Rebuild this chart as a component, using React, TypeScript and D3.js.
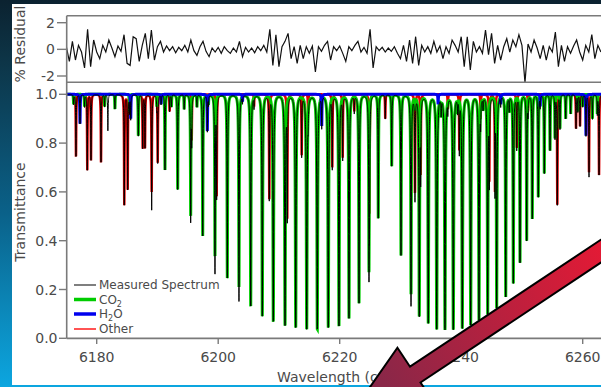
import React from 'react';
import * as d3 from 'd3';

const W = 601;
const H = 387;

const X_TICKS = [6180, 6200, 6220, 6240, 6260];
const T_TICKS = [0, 0.2, 0.4, 0.6, 0.8, 1.0];
const RES_TICKS = [-2, 0, 2];

// CO2 absorption lines: centre (cm-1) and transmittance at line centre (model, green)
const CO2_CENTERS = [
  6186.85, 6191.24, 6193.33, 6195.47, 6197.45, 6199.47, 6201.5, 6203.42, 6205.35, 6207.26,
  6209.07, 6211.0, 6212.76, 6214.57, 6216.31, 6218.12, 6219.88, 6221.53, 6223.18, 6224.82,
  6226.35, 6228.56, 6230.09, 6231.74, 6233.1, 6234.58, 6235.97, 6237.33, 6238.7, 6240.18,
  6241.56, 6242.93, 6244.36, 6245.84, 6247.33, 6248.58, 6249.68, 6250.78, 6251.7, 6252.69,
  6253.68, 6254.62, 6255.44, 6256.26, 6257.2, 6258.02,
  6176.2, 6178.0, 6181.3, 6183.0, 6185.4, 6189.9, 6192.3, 6194.4, 6196.5, 6198.4,
  6232.4, 6236.7, 6239.4, 6243.6, 6247.9, 6259.2, 6260.0, 6261.6, 6262.4,
];
const CO2_TMIN = [
  0.83, 0.69, 0.61, 0.5, 0.42, 0.335, 0.246, 0.21, 0.13, 0.09,
  0.068, 0.052, 0.044, 0.037, 0.037, 0.044, 0.05, 0.082, 0.143, 0.27,
  0.49, 0.706, 0.34, 0.18, 0.089, 0.061, 0.037, 0.035, 0.035, 0.04,
  0.054, 0.075, 0.098, 0.123, 0.17, 0.225, 0.31, 0.4, 0.49, 0.58,
  0.676, 0.77, 0.82, 0.86, 0.9, 0.92,
  0.96, 0.95, 0.95, 0.94, 0.93, 0.95, 0.95, 0.94, 0.95, 0.96,
  0.95, 0.93, 0.94, 0.95, 0.94, 0.93, 0.95, 0.9, 0.92,
];

// H2O lines
const H2O_CENTERS = [6177.25, 6185.6, 6198.21, 6217.04, 6260.54, 6190.6, 6204.0, 6236.2, 6246.5, 6253.0];
const H2O_TMIN = [0.88, 0.9, 0.85, 0.87, 0.83, 0.96, 0.97, 0.96, 0.96, 0.95];

// Other species lines
const OTHER_CENTERS = [
  6176.59, 6178.45, 6179.06, 6180.71, 6184.54, 6185.1, 6187.57, 6187.95, 6189.05, 6190.04,
  6195.64, 6199.75, 6208.41, 6211.37, 6213.74, 6218.78, 6220.49, 6224.9, 6232.39, 6233.33,
  6239.69, 6244.63, 6245.56, 6249.14, 6255.82, 6258.9, 6259.56, 6261.04, 6262.69,
  6192.0, 6205.9, 6214.8, 6222.4, 6227.5, 6237.8, 6243.2, 6251.0,
];
const OTHER_TMIN = [
  0.744, 0.69, 0.73, 0.72, 0.546, 0.61, 0.78, 0.78, 0.6, 0.72,
  0.81, 0.58, 0.57, 0.49, 0.75, 0.7, 0.74, 0.51, 0.594, 0.67,
  0.77, 0.64, 0.6, 0.78, 0.546, 0.86, 0.87, 0.68, 0.67,
  0.93, 0.95, 0.92, 0.93, 0.9, 0.94, 0.9, 0.93,
];

// Measured minima that go deeper than the fitted components
const MEAS_CENTERS = [6199.47, 6203.42, 6189.05, 6195.47, 6224.82, 6231.74, 6181.84, 6261.04];
const MEAS_TMIN = [0.26, 0.15, 0.525, 0.47, 0.228, 0.13, 0.85, 0.66];

// % residual, sampled every 0.5 cm-1 from 6175
const RES_START = 6175;
const RES_STEP = 0.5;
const RESIDUAL = [
  0.2, -0.9, 0.6, -0.8, 0.3, -0.2, -1.4, 1.5, -1.3, 0.7,
  -0.2, -0.7, 0.3, -0.2, 0.7, 0.1, -0.55, 0.25, -0.15, 1.1,
  -1.05, -1.2, 0.95, 0.8, -0.9, 0.3, 1.2, -0.7, 1.45, -0.8,
  0.2, 0.6, -0.2, 0.25, -0.1, 0.2, -0.25, 0.15, -0.1, 0.3,
  -0.2, 0.7, -0.1, -0.45, 0.2, 0.6, -0.15, -0.55, 0.1, -0.2,
  0.15, -0.3, 0.2, -0.1, -0.3, 0.1, -0.2, 0.6, -0.55, 0.15,
  -0.2, 0.1, -0.25, 0.2, -0.1, 0.3, -0.2, 1.5, -1.2, 1.1,
  -1.3, 0.2, 0.6, 1.2, -0.7, 0.2, -1.05, 0.3, -0.7, 0.2,
  -0.3, 0.25, -1.7, 0.2, -0.15, 0.3, 0.6, -0.8, 0.2, -0.1,
  0.25, -0.3, -0.9, 0.2, -0.1, 0.3, 0.6, -0.2, 0.15, -0.3,
  1.5, -1.4, 0.2, -0.1, 0.15, -0.2, 0.1, -0.15, 0.2, -0.3,
  -0.7, 0.3, -0.9, 0.7, -1.05, 0.95, -1.2, 0.3, -0.2, 0.2,
  -0.3, 0.6, -0.2, 0.25, -0.7, 0.2, -0.3, 0.7, 0.3, -0.2,
  0.95, -1.3, 0.95, -1.55, 0.6, -0.2, 0.2, -0.3, 1.45, -0.4,
  1.2, -1.05, 0.3, -0.8, 0.2, 0.8, -0.2, 0.7, 0.2, 1.1,
  0.3, -2.5, 0.4, -0.2, 0.7, 0.1, -0.7, 0.3, -0.8, 0.2,
  -0.2, 1.3, -1.3, 0.3, -0.9, 0.2, -0.3, 0.25, 0.7, -0.2,
  -0.8, 0.3, -0.2, 1.1, -0.7, 0.3, -0.2,
];

const LEGEND = ['Measured Spectrum', 'CO2', 'H2O', 'Other'];

const GAMMA = 0.04;
const FONT = 'DejaVu Sans';
const TEXT = '#4a4a4a';
const AXIS = '#7a7a7a';

function tauOf(w: number, centers: number[], tmins: number[]) {
  let s = 0;
  const g2 = GAMMA * GAMMA;
  for (let i = 0; i < centers.length; i++) {
    const d = w - centers[i];
    if (Math.abs(d) > 4) continue;
    s += -Math.log(tmins[i]) * g2 / (d * d + g2);
  }
  return s;
}

export default function App() {
  const x = d3.scaleLinear().domain([6180, 6260]).range([96.7, 582.7]);
  const yT = d3.scaleLinear().domain([0, 1]).range([338.3, 94.3]);
  const yR = d3.scaleLinear().domain([-2, 2]).range([76, 22.7]);
  const left = 66.7;

  const wMin = x.invert(left) - 0.5;
  const wMax = x.invert(W) + 0.5;
  const grid = d3.range(wMin, wMax, 0.008);

  const extraT0 = MEAS_CENTERS.map((c, i) => {
    const tot = tauOf(c, CO2_CENTERS, CO2_TMIN) + tauOf(c, H2O_CENTERS, H2O_TMIN) + tauOf(c, OTHER_CENTERS, OTHER_TMIN);
    return Math.exp(-Math.max(0.0001, -Math.log(MEAS_TMIN[i]) - tot));
  });

  const co2 = grid.map((w) => tauOf(w, CO2_CENTERS, CO2_TMIN));
  const h2o = grid.map((w) => tauOf(w, H2O_CENTERS, H2O_TMIN));
  const oth = grid.map((w) => tauOf(w, OTHER_CENTERS, OTHER_TMIN));
  const ext = grid.map((w) => tauOf(w, MEAS_CENTERS, extraT0));

  const line = d3.line<[number, number]>().x((d) => x(d[0])).y((d) => yT(d[1]));
  const mk = (arr: number[]) => line(grid.map((w, i) => [w, Math.exp(-arr[i])] as [number, number])) || '';
  const pCO2 = mk(co2);
  const pH2O = mk(h2o);
  const pOth = mk(oth);
  const pMeas = mk(grid.map((_, i) => co2[i] + h2o[i] + oth[i] + ext[i]));

  const resLine = d3.line<number>().x((_, i) => x(RES_START + i * RES_STEP)).y((d) => yR(d));
  const pRes = resLine(RESIDUAL) || '';

  // arrow geometry
  const dir = [-0.833, 0.554];
  const nrm = [0.554, 0.833];
  const U = [410, 366.7];
  const LW = [U[0] - 22.7 * nrm[0], U[1] - 22.7 * nrm[1]];
  const Lj = [U[0] + 19 * nrm[0], U[1] + 19 * nrm[1]];
  const RW = [Lj[0] + 22.7 * nrm[0], Lj[1] + 22.7 * nrm[1]];
  const Uf = [U[0] - 300 * dir[0], U[1] - 300 * dir[1]];
  const Lf = [Lj[0] - 300 * dir[0], Lj[1] - 300 * dir[1]];
  const base = [(LW[0] + RW[0]) / 2, (LW[1] + RW[1]) / 2];
  const tip = [base[0] + 82 * dir[0], base[1] + 82 * dir[1]];
  const arrow = [LW, U, Uf, Lf, Lj, RW, tip].map((p) => p.join(',')).join(' ');

  const legendRows = [285, 299.5, 314, 329];

  return (
    <svg width={W} height={H} style={{ position: 'absolute', left: 0, top: 0 }} fontFamily={FONT}>
      <defs>
        <linearGradient id="bg" x1="0" y1="0" x2="0" y2="1">
          <stop offset="0" stopColor="#0b2230" />
          <stop offset="0.15" stopColor="#0d3446" />
          <stop offset="0.55" stopColor="#0a6189" />
          <stop offset="1" stopColor="#0ca6e0" />
        </linearGradient>
        <linearGradient id="arrowG" gradientUnits="userSpaceOnUse" x1="601" y1="245" x2="385" y2="385">
          <stop offset="0" stopColor="#e31a35" />
          <stop offset="1" stopColor="#8a2748" />
        </linearGradient>
        <clipPath id="mainClip">
          <rect x={left} y={86} width={W - left} height={254} />
        </clipPath>
        <clipPath id="resClip">
          <rect x={left} y={15.7} width={W - left} height={66.6} />
        </clipPath>
      </defs>
      <rect x={0} y={0} width={W} height={H} fill="url(#bg)" />
      <rect x={12} y={4} width={W - 12} height={381} fill="#ffffff" />

      {/* residual panel */}
      <g clipPath="url(#resClip)">
        <path d={pRes} fill="none" stroke="#111" strokeWidth={1.2} strokeLinejoin="miter" />
      </g>
      <line x1={left} x2={W} y1={15.7} y2={15.7} stroke={AXIS} strokeWidth={1.6} />
      <line x1={left} x2={W} y1={82.3} y2={82.3} stroke={AXIS} strokeWidth={1.6} />
      {RES_TICKS.map((t) => (
        <g key={t}>
          <line x1={57} x2={left} y1={yR(t)} y2={yR(t)} stroke={AXIS} strokeWidth={1.4} />
          <text x={55} y={yR(t) + 5} textAnchor="end" fontSize={14} fill={TEXT}>{t === -2 ? '-2' : String(t)}</text>
        </g>
      ))}

      {/* main panel spectra */}
      <g clipPath="url(#mainClip)" fill="none">
        <path d={pOth} stroke="#e00000" strokeWidth={2.5} />
        <path d={pCO2} stroke="#00cc00" strokeWidth={3} />
        <path d={pH2O} stroke="#0000ee" strokeWidth={3} />
        <path d={pMeas} stroke="#000" strokeWidth={1} />
      </g>

      {/* axes */}
      <line x1={left} x2={left} y1={15.7} y2={338.3} stroke={AXIS} strokeWidth={1.6} />
      <line x1={left} x2={W} y1={338.3} y2={338.3} stroke={AXIS} strokeWidth={1.8} />
      {T_TICKS.map((t) => (
        <g key={t}>
          <line x1={59} x2={left} y1={yT(t)} y2={yT(t)} stroke={AXIS} strokeWidth={1.4} />
          <text x={57.5} y={yT(t) + 5} textAnchor="end" fontSize={14} fill={TEXT}>{t.toFixed(1)}</text>
        </g>
      ))}
      {X_TICKS.map((t) => (
        <g key={t}>
          <line x1={x(t)} x2={x(t)} y1={338.3} y2={344} stroke={AXIS} strokeWidth={1.4} />
          <text x={x(t)} y={361.5} textAnchor="middle" fontSize={14} fill={TEXT}>{t}</text>
        </g>
      ))}
      <text x={277} y={382} fontSize={14} fill={TEXT}>
        Wavelength (cm<tspan dy={-5} fontSize={10}>-1</tspan><tspan dy={5}>)</tspan>
      </text>
      <text transform="translate(24.5,44) rotate(-90)" textAnchor="middle" fontSize={14} fill={TEXT}>% Residual</text>
      <text transform="translate(24.5,212) rotate(-90)" textAnchor="middle" fontSize={14} fill={TEXT}>Transmittance</text>

      {/* legend */}
      <g>
        <line x1={74} x2={96} y1={legendRows[0]} y2={legendRows[0]} stroke="#555" strokeWidth={1.5} />
        <text x={99} y={legendRows[0] + 4} fontSize={12} fill={TEXT}>{LEGEND[0]}</text>
        <line x1={74} x2={96} y1={legendRows[1]} y2={legendRows[1]} stroke="#00cc00" strokeWidth={3.5} />
        <text x={99} y={legendRows[1] + 4} fontSize={12} fill={TEXT}>CO<tspan dy={3} fontSize={8}>2</tspan></text>
        <line x1={74} x2={96} y1={legendRows[2]} y2={legendRows[2]} stroke="#0000ee" strokeWidth={3.5} />
        <text x={99} y={legendRows[2] + 4} fontSize={12} fill={TEXT}>H<tspan dy={3} fontSize={8}>2</tspan><tspan dy={-3}>O</tspan></text>
        <line x1={74} x2={96} y1={legendRows[3]} y2={legendRows[3]} stroke="#ff1a1a" strokeWidth={1.5} />
        <text x={99} y={legendRows[3] + 4} fontSize={12} fill={TEXT}>{LEGEND[3]}</text>
      </g>

      {/* arrow */}
      <polygon points={arrow} fill="url(#arrowG)" stroke="#000" strokeWidth={2} strokeLinejoin="miter" />
    </svg>
  );
}
